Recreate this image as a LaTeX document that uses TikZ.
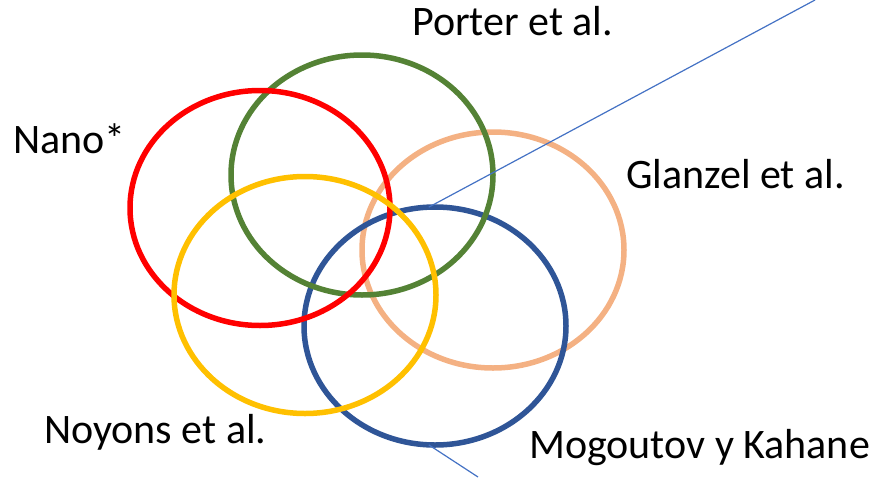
\documentclass[tikz,border=0pt]{standalone}
\usepackage{fontspec}
\setmainfont{Carlito}
\usetikzlibrary{shapes.geometric}
\definecolor{ringred}{HTML}{FF0000}
\definecolor{ringgreen}{HTML}{548235}
\definecolor{ringpeach}{HTML}{F4B183}
\definecolor{ringyellow}{HTML}{FFC000}
\definecolor{ringblue}{HTML}{2F5597}
\definecolor{thinblue}{HTML}{4472C4}
\tikzset{
  ring/.style={ellipse, draw=#1, line width=5.5pt, inner sep=0pt, outer sep=0pt, fill=none},
  label text/.style={anchor=base west, inner sep=0pt, font=\fontsize{42}{50}\selectfont},
  pointer/.style={draw=thinblue, line width=1.2pt}
}
\begin{document}
\begin{tikzpicture}[x=1pt, y=-1pt]
\useasboundingbox (0,0) rectangle (876,477);
% sets, back to front
\node[ring=ringpeach, minimum width=262pt, minimum height=236pt] (glanzel) at (493,250) {};
\node[ring=ringblue, minimum width=262pt, minimum height=238pt] (mogoutov) at (435,326) {};
\node[ring=ringgreen, minimum width=262pt, minimum height=240pt] (porter) at (362,175) {};
\node[ring=ringred, minimum width=260pt, minimum height=235pt] (nano) at (260,208) {};
\node[ring=ringyellow, minimum width=262pt, minimum height=237pt] (noyons) at (305,295) {};
% pointer lines
\coordinate (topend) at (815,0);
\coordinate (botend) at (478,477);
\draw[pointer] (topend) -- (mogoutov.93);
\draw[pointer] (mogoutov.267) -- (botend);
% set names
\node[label text] (tporter) at (412,35) {Porter et al.};
\node[label text] (tnano) at (13,153) {Nano*};
\node[label text] (tglanzel) at (626,188) {Glanzel et al.};
\node[label text] (tnoyons) at (44,443) {Noyons et al.};
\node[label text] (tmogoutov) at (529,458) {Mogoutov y Kahane};
\end{tikzpicture}
\end{document}
